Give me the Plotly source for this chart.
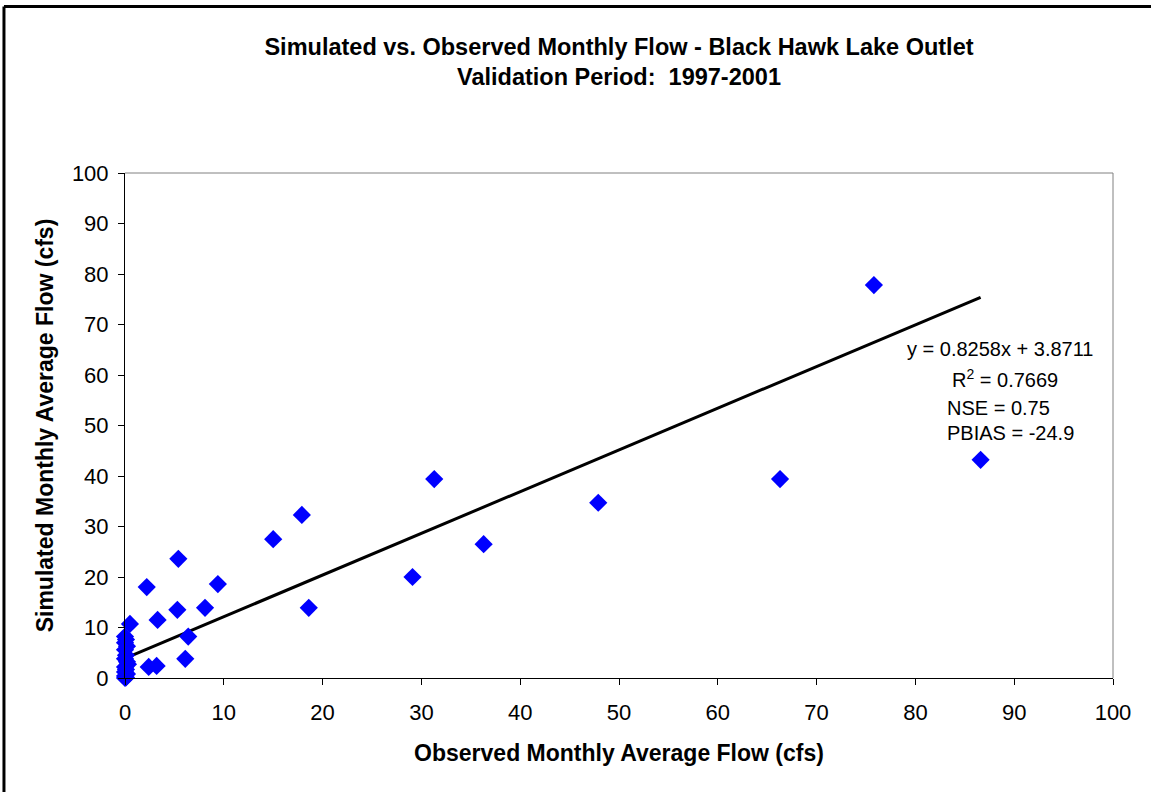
import plotly.graph_objects as go

# Observed vs simulated monthly average flow (cfs), validation period 1997-2001
observed = [75.8, 86.6, 66.3, 47.9, 36.3, 31.3, 29.1, 17.9, 15.0, 5.4,
            2.2, 9.4, 5.3, 8.1, 18.6, 3.3, 0.5, 6.4, 6.1, 2.4, 3.2,
            0.0, 0.1, 0.0, 0.2, 0.0, 0.1, 0.0, 0.2, 0.3, 0.0, 0.1, 0.0,
            0.2, 0.0, 0.1, 0.0]
simulated = [77.8, 43.2, 39.4, 34.7, 26.5, 39.4, 20.0, 32.3, 27.5, 23.6,
             18.0, 18.6, 13.5, 13.9, 13.9, 11.5, 10.7, 8.2, 3.8, 2.2, 2.4,
             8.2, 7.6, 7.0, 6.3, 5.6, 4.5, 3.8, 3.2, 2.7, 2.2, 1.7, 1.2,
             0.8, 0.4, 0.1, 0.0]

# Linear trendline reported on the chart
slope = 0.8258
intercept = 3.8711
r_squared = 0.7669
nse = 0.75
pbias = -24.9

tick_vals = [0, 10, 20, 30, 40, 50, 60, 70, 80, 90, 100]

font_family = "Liberation Sans, Arial, sans-serif"

x_line = [0, max(observed)]
y_line = [slope * v + intercept for v in x_line]

fig = go.Figure()
fig.add_trace(go.Scatter(
    x=x_line, y=y_line, mode="lines",
    line=dict(color="black", width=3),
    showlegend=False, hoverinfo="skip",
))
fig.add_trace(go.Scatter(
    x=observed, y=simulated, mode="markers",
    marker=dict(symbol="diamond", size=14, color="#0000FF", line=dict(width=0)),
    cliponaxis=False, showlegend=False,
))

axis_common = dict(
    range=[0, 100], tickvals=tick_vals, showgrid=False, zeroline=False,
    showline=True, linecolor="black", linewidth=1,
    ticks="outside", ticklen=6, tickcolor="black", tickwidth=1,
    tickfont=dict(family=font_family, size=22, color="black"),
    fixedrange=True,
)

fig.update_layout(
    width=1151, height=792,
    margin=dict(l=125, r=38, t=173, b=114),
    paper_bgcolor="white", plot_bgcolor="white",
    title=dict(
        text="Simulated vs. Observed Monthly Flow - Black Hawk Lake Outlet<br>Validation Period:  1997-2001",
        x=0.5, xanchor="center", xref="paper", y=0.931, yanchor="top",
        font=dict(family=font_family, size=23.5, color="black", weight="bold"),
    ),
    xaxis=dict(
        **axis_common,
        ticklabelstandoff=9,
        title=dict(text="Observed Monthly Average Flow (cfs)", standoff=20,
                   font=dict(family=font_family, size=23, color="black", weight="bold")),
    ),
    yaxis=dict(
        **axis_common,
        ticklabelstandoff=5,
        title=dict(text="Simulated Monthly Average Flow (cfs)", standoff=11,
                   font=dict(family=font_family, size=23, color="black", weight="bold")),
    ),
    font=dict(family=font_family, color="black"),
)

# Plot-area border on the top and right edges
fig.add_shape(type="line", xref="paper", yref="paper", x0=0, x1=1, y0=1, y1=1,
              line=dict(color="#808080", width=1))
fig.add_shape(type="line", xref="paper", yref="paper", x0=1, x1=1, y0=0, y1=1,
              line=dict(color="#808080", width=1))

# Outer chart frame (left and top edges)
frame_left = -0.1225
frame_top = 1.3295
fig.add_shape(type="line", xref="paper", yref="paper",
              x0=frame_left, x1=frame_left, y0=-0.5, y1=frame_top,
              line=dict(color="black", width=3), layer="above")
fig.add_shape(type="line", xref="paper", yref="paper",
              x0=frame_left, x1=1.2, y0=frame_top, y1=frame_top,
              line=dict(color="black", width=3), layer="above")

stat_font = dict(family=font_family, size=20, color="black")
fig.add_annotation(x=88.6, y=65.1, xref="x", yref="y", showarrow=False,
                   text=f"y = {slope}x + {intercept}", font=stat_font, xanchor="center")
fig.add_annotation(x=89.1, y=59.4, xref="x", yref="y", showarrow=False,
                   text=f"R<sup>2</sup> = {r_squared}", font=stat_font, xanchor="center")
fig.add_annotation(x=83.0, y=53.5, xref="x", yref="y", showarrow=False,
                   text=f"NSE = {nse}", font=stat_font, xanchor="left")
fig.add_annotation(x=83.0, y=48.5, xref="x", yref="y", showarrow=False,
                   text=f"PBIAS = {pbias}", font=stat_font, xanchor="left")

fig.write_html("out.html")
